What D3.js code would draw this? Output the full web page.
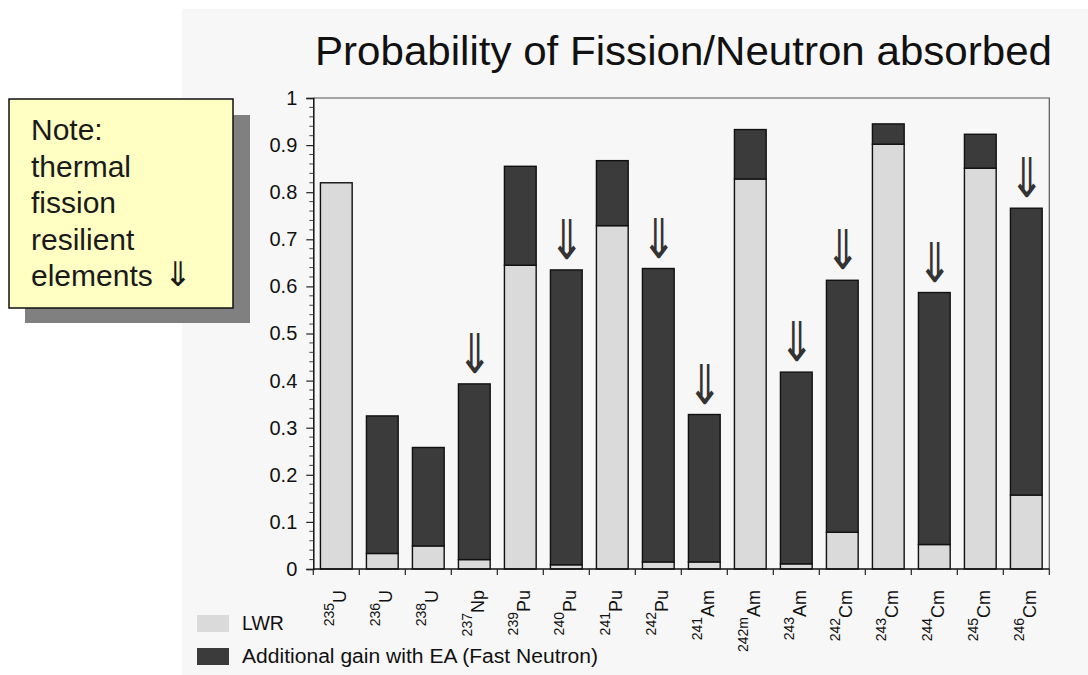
<!DOCTYPE html>
<html>
<head>
<meta charset="utf-8">
<script src="https://cdn.jsdelivr.net/npm/d3@7"></script>
<style>
  html, body { margin: 0; padding: 0; background: #ffffff; }
  svg { display: block; }
  text { font-family: "Liberation Sans", Arial, Helvetica, sans-serif; }
  .y-axis .tick text { font-size: 20px; fill: #111; }
</style>
</head>
<body>
<svg id="chart" width="1088" height="675"></svg>
<script>
// Isotopes on the x axis: mass number (superscript) and element symbol
const massNumbers = ["235", "236", "238", "237", "239", "240", "241", "242", "241", "242m", "243", "242", "243", "244", "245", "246"];
const elements    = ["U", "U", "U", "Np", "Pu", "Pu", "Pu", "Pu", "Am", "Am", "Am", "Cm", "Cm", "Cm", "Cm", "Cm"];

// Probability of fission per neutron absorbed
const lwrValues    = [0.820, 0.033, 0.049, 0.020, 0.645, 0.009, 0.729, 0.015, 0.015, 0.828, 0.011, 0.078, 0.902, 0.052, 0.851, 0.157];
const eaGainValues = [0.000, 0.292, 0.209, 0.373, 0.210, 0.626, 0.138, 0.623, 0.313, 0.105, 0.407, 0.535, 0.043, 0.535, 0.072, 0.609];

// Isotopes that resist thermal fission (marked with a double arrow)
const resilient = [false, false, false, true, false, true, false, true, true, false, true, true, false, true, false, true];

const yTicks = [0, 0.1, 0.2, 0.3, 0.4, 0.5, 0.6, 0.7, 0.8, 0.9, 1];
const yTickLabels = ["0", "0.1", "0.2", "0.3", "0.4", "0.5", "0.6", "0.7", "0.8", "0.9", "1"];

const seriesNames = ["LWR", "Additional gain with EA (Fast Neutron)"];
const seriesColors = ["#dadada", "#3b3b3b"];

const noteLines = ["Note:", "thermal", "fission", "resilient", "elements"];

const svg = d3.select("#chart");

// scanned-slide backdrop
svg.append("rect").attr("x", 182).attr("y", 9).attr("width", 906).attr("height", 666).attr("fill", "#f7f7f7");

const plot = { left: 313.3, right: 1049.3, top: 98, bottom: 569 };

const rows = lwrValues.map((v, i) => ({ i, lwr: v, gain: eaGainValues[i] }));
const stack = d3.stack().keys(["lwr", "gain"]);
const layers = stack(rows);

const x = d3.scaleBand()
  .domain(d3.range(rows.length))
  .range([plot.left, plot.right])
  .paddingInner(0.31)
  .paddingOuter(0.155);

const y = d3.scaleLinear().domain([0, 1]).range([plot.bottom, plot.top]);

// frame (top and right)
svg.append("path")
  .attr("d", `M${plot.left},${y(1)}H${plot.right}V${y(0)}`)
  .attr("fill", "none").attr("stroke", "#555").attr("stroke-width", 1.2);

// title
svg.append("text")
  .attr("x", 315).attr("y", 65)
  .attr("font-size", 40.5)
  .attr("textLength", 737)
  .attr("lengthAdjust", "spacingAndGlyphs")
  .attr("fill", "#111")
  .text("Probability of Fission/Neutron absorbed");

// bars
const g = svg.append("g");
layers.forEach((layer, k) => {
  g.selectAll(null)
    .data(layer.filter(d => d[1] - d[0] > 0))
    .join("rect")
    .attr("x", d => x(d.data.i))
    .attr("width", x.bandwidth())
    .attr("y", d => y(d[1]))
    .attr("height", d => y(d[0]) - y(d[1]))
    .attr("fill", seriesColors[k])
    .attr("stroke", "#111")
    .attr("stroke-width", 1.4);
});

// double arrows above thermal-fission-resilient isotopes
svg.append("g").selectAll("text")
  .data(rows.filter(d => resilient[d.i]))
  .join("text")
  .attr("transform", d => `translate(${x(d.i) + x.bandwidth() / 2},${y(d.lwr + d.gain) - 11}) scale(1,1.3)`)
  .attr("text-anchor", "middle")
  .attr("font-family", "DejaVu Sans")
  .attr("font-size", 42)
  .attr("fill", "#333")
  .text("⇓");

// y axis
const yAxis = d3.axisLeft(y)
  .tickValues(yTicks)
  .tickFormat((d, i) => yTickLabels[i])
  .tickSize(7)
  .tickPadding(9);
const ya = svg.append("g")
  .attr("class", "y-axis")
  .attr("transform", `translate(${plot.left},0)`)
  .call(yAxis);
ya.attr("font-size", null).attr("font-family", null);
ya.select(".domain").attr("stroke", "#111").attr("stroke-width", 1.5);
ya.selectAll(".tick line").attr("stroke", "#222").attr("stroke-width", 1.2);

// minor ticks every 0.02
const minor = d3.range(0, 1.0001, 0.02).filter(v => Math.abs(v * 10 - Math.round(v * 10)) > 1e-6);
svg.append("g").selectAll("line")
  .data(minor).join("line")
  .attr("x1", plot.left - 4).attr("x2", plot.left)
  .attr("y1", d => y(d)).attr("y2", d => y(d))
  .attr("stroke", "#444").attr("stroke-width", 1);

// x axis line and band-boundary ticks
const step = x.step();
const bounds = d3.range(rows.length + 1).map(i => plot.left + i * step);
svg.append("line")
  .attr("x1", plot.left).attr("x2", plot.right)
  .attr("y1", y(0)).attr("y2", y(0))
  .attr("stroke", "#111").attr("stroke-width", 1.5);
svg.append("g").selectAll("line")
  .data(bounds).join("line")
  .attr("x1", d => d).attr("x2", d => d)
  .attr("y1", y(0)).attr("y2", y(0) + 6)
  .attr("stroke", "#222").attr("stroke-width", 1.2);

// isotope labels, rotated, with superscript mass numbers
const labels = svg.append("g").selectAll("text")
  .data(rows).join("text")
  .attr("transform", d => `translate(${x(d.i) + x.bandwidth() / 2 + 10},${y(0) + 21}) rotate(-90)`)
  .attr("text-anchor", "end")
  .attr("fill", "#111");
labels.append("tspan")
  .attr("font-size", 14)
  .attr("dy", -12)
  .text(d => massNumbers[d.i]);
labels.append("tspan")
  .attr("font-size", 18)
  .attr("dy", 12)
  .text(d => elements[d.i]);

// legend
const legend = svg.append("g");
seriesNames.forEach((name, k) => {
  legend.append("rect")
    .attr("x", 197).attr("y", 615 + k * 33)
    .attr("width", 32).attr("height", 17)
    .attr("fill", seriesColors[k]);
  legend.append("text")
    .attr("x", 242).attr("y", 630 + k * 33)
    .attr("font-size", 19.5)
    .attr("fill", "#111")
    .text(name);
});
legend.selectAll("text").filter((d, i) => i === 1)
  .attr("textLength", 356).attr("lengthAdjust", "spacingAndGlyphs");

// note box with drop shadow
const note = svg.append("g");
note.append("rect").attr("x", 25).attr("y", 115).attr("width", 225).attr("height", 208).attr("fill", "#808080");
note.append("rect").attr("x", 9).attr("y", 99).attr("width", 224).attr("height", 209)
  .attr("fill", "#ffffc4").attr("stroke", "#111").attr("stroke-width", 1.5);
const noteText = note.append("text").attr("font-size", 30).attr("fill", "#1a1a1a");
noteLines.forEach((line, i) => {
  noteText.append("tspan").attr("x", 31).attr("y", 140 + i * 36.5).text(line);
  if (i === noteLines.length - 1) {
    noteText.append("tspan").attr("font-family", "DejaVu Sans").attr("font-size", 34).text(" ⇓");
  }
});
</script>
</body>
</html>
